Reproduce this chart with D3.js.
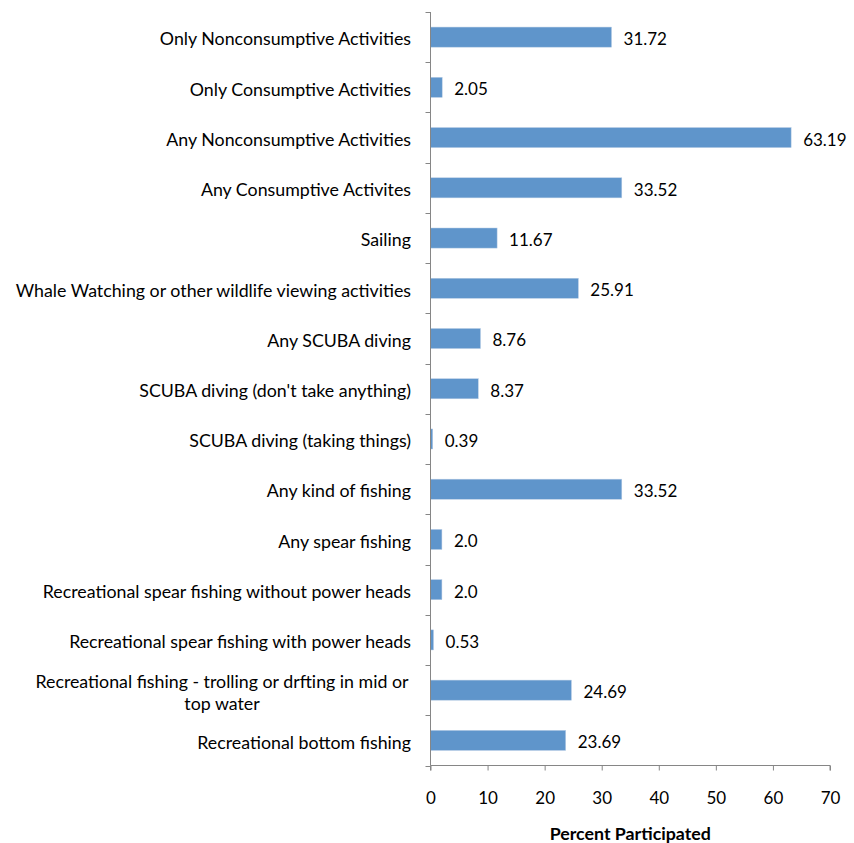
<!DOCTYPE html>
<html><head><meta charset="utf-8">
<script src="https://cdn.jsdelivr.net/npm/d3@7"></script>
<style>body{margin:0;background:#fff}svg{display:block}text{font-family:Lato,"Open Sans",sans-serif;fill:#000}</style>
</head><body><svg id="c" width="854" height="843"></svg>
<script>
const categories = [
  "Only Nonconsumptive Activities",
  "Only Consumptive Activities",
  "Any Nonconsumptive Activities",
  "Any Consumptive Activites",
  "Sailing",
  "Whale Watching or other wildlife viewing activities",
  "Any SCUBA diving",
  "SCUBA diving (don't take anything)",
  "SCUBA diving (taking things)",
  "Any kind of fishing",
  "Any spear fishing",
  "Recreational spear fishing without power heads",
  "Recreational spear fishing with power heads",
  "Recreational fishing - trolling or drfting in mid or top water",
  "Recreational bottom fishing"
];
const values = [31.72, 2.05, 63.19, 33.52, 11.67, 25.91, 8.76, 8.37, 0.39, 33.52, 2.0, 2.0, 0.53, 24.69, 23.69];
const valueLabels = ["31.72","2.05","63.19","33.52","11.67","25.91","8.76","8.37","0.39","33.52","2.0","2.0","0.53","24.69","23.69"];
const xTicks = [0,10,20,30,40,50,60,70];
const xTitle = "Percent Participated";

const svg = d3.select("#c");
const pLeft = 430.5, pRight = 830, pTop = 12, pBottom = 765.5;
const x = d3.scaleLinear().domain([0,70]).range([pLeft,pRight]);
const y = d3.scaleBand().domain(categories).range([pTop,pBottom]).paddingInner(0.6).paddingOuter(0.3);
const band = (pBottom-pTop)/categories.length;
const axisColor = "#868686";
const fs = 17.8;

// bars
svg.selectAll("rect.bar").data(categories).join("rect")
  .attr("class","bar")
  .attr("x", x(0))
  .attr("y", d => y(d))
  .attr("width", (d,i) => x(values[i]) - x(0))
  .attr("height", y.bandwidth())
  .attr("fill", "#5f95cb")
  .attr("stroke", "#b9cde5").attr("stroke-width", 0.5);

// value labels
svg.selectAll("text.val").data(categories).join("text")
  .attr("class","val")
  .attr("x", (d,i) => x(values[i]) + 12)
  .attr("y", d => y(d) + y.bandwidth()/2 + 2)
  .attr("dy","0.35em")
  .attr("font-size", 17)
  .text((d,i) => valueLabels[i]);

// y axis line and ticks
const yAxis = svg.append("g");
yAxis.append("line").attr("x1",pLeft).attr("x2",pLeft).attr("y1",pTop).attr("y2",pBottom).attr("stroke",axisColor);
d3.range(categories.length+1).forEach(i => {
  const yy = Math.round(pTop + i*band) + 0.5;
  yAxis.append("line").attr("x1",pLeft-5).attr("x2",pLeft).attr("y1",yy).attr("y2",yy).attr("stroke",axisColor);
});

// category labels
const labelX = 411;
categories.forEach(c => {
  const cy = y(c) + y.bandwidth()/2 + 2;
  const t = svg.append("text").attr("text-anchor","end").attr("font-size",fs).attr("x",labelX);
  if (c.startsWith("Recreational fishing - trolling")) {
    t.attr("text-anchor","middle");
    t.append("tspan").attr("x",labelX-189).attr("y",cy-10).attr("dy","0.35em").text("Recreational fishing - trolling or drfting in mid or");
    t.append("tspan").attr("x",labelX-189).attr("y",cy+12).attr("dy","0.35em").text("top water");
  } else {
    t.attr("y",cy).attr("dy","0.35em").text(c);
  }
});

// x axis
const xAxis = svg.append("g").attr("transform",`translate(0,${pBottom})`)
  .call(d3.axisBottom(x).tickValues(xTicks).tickSize(5).tickPadding(21).tickFormat(d3.format("d")));
xAxis.select(".domain").attr("stroke",axisColor).attr("d",`M${pLeft},5V0H${pRight}V5`);
xAxis.selectAll(".tick line").attr("stroke",axisColor);
xAxis.selectAll(".tick text").attr("font-size",17).attr("font-family","Lato,'Open Sans',sans-serif").attr("fill","#000");

svg.append("text").attr("x",(pLeft+pRight)/2).attr("y",834).attr("dy","0.35em")
  .attr("text-anchor","middle").attr("font-size",fs).attr("font-weight","bold").text(xTitle);
</script></body></html>
